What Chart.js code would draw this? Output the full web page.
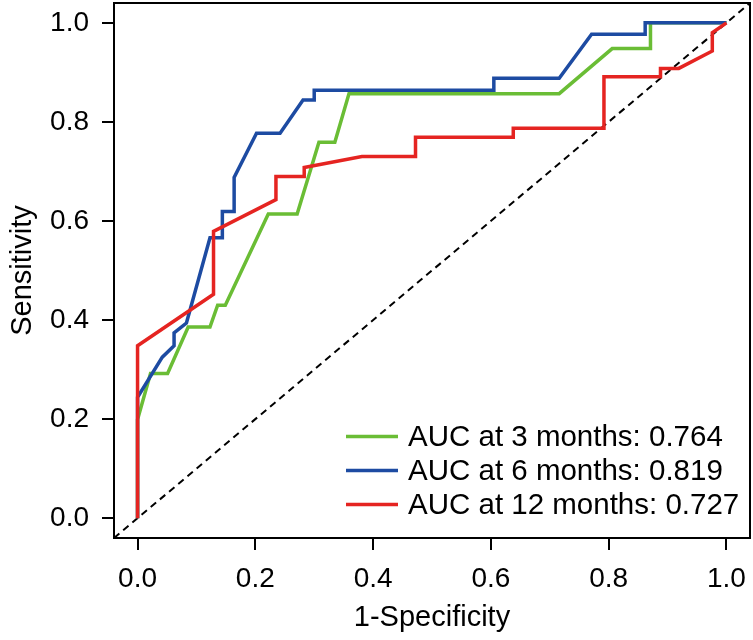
<!DOCTYPE html>
<html>
<head>
<meta charset="utf-8">
<script src="https://cdn.jsdelivr.net/npm/chart.js@4.4.1/dist/chart.umd.min.js"></script>
<style>
  html, body { margin: 0; padding: 0; background: #ffffff; }
  #wrap { width: 753px; height: 640px; }
</style>
</head>
<body>
<div id="wrap"><canvas id="c" width="753" height="640"></canvas></div>
<script>
// ---- data ----
const seriesLabels = ['AUC at 3 months: 0.764', 'AUC at 6 months: 0.819', 'AUC at 12 months: 0.727'];

const fpr3 = [0, 0, 0.022, 0.051, 0.086, 0.123, 0.136, 0.149, 0.222, 0.271, 0.308, 0.335, 0.359, 0.716, 0.806, 0.871, 0.871, 1];
const tpr3 = [0, 0.199, 0.292, 0.292, 0.386, 0.386, 0.430, 0.430, 0.614, 0.614, 0.759, 0.759, 0.857, 0.857, 0.948, 0.948, 1.0, 1];

const fpr6 = [0, 0, 0.042, 0.062, 0.062, 0.083, 0.123, 0.144, 0.144, 0.164, 0.164, 0.202, 0.242, 0.281, 0.300, 0.300, 0.605, 0.605, 0.716, 0.771, 0.862, 0.862, 1];
const tpr6 = [0, 0.244, 0.325, 0.348, 0.374, 0.394, 0.566, 0.566, 0.619, 0.619, 0.688, 0.777, 0.777, 0.844, 0.844, 0.864, 0.864, 0.888, 0.888, 0.977, 0.977, 1.0, 1];

const fpr12 = [0, 0, 0.129, 0.129, 0.235, 0.235, 0.283, 0.283, 0.381, 0.472, 0.472, 0.638, 0.638, 0.792, 0.792, 0.888, 0.888, 0.919, 0.976, 0.976, 1];
const tpr12 = [0, 0.348, 0.452, 0.579, 0.643, 0.690, 0.690, 0.708, 0.730, 0.730, 0.769, 0.769, 0.787, 0.787, 0.891, 0.891, 0.908, 0.908, 0.943, 0.980, 1];

const tickValues = [0, 0.2, 0.4, 0.6, 0.8, 1.0];
const axisMin = -0.04, axisMax = 1.04;   // R default 4% range extension
const refLine = [axisMin, axisMax];      // y = x reference line

// ---- styles ----
const colors = ['#6abd35', '#1d4ba2', '#e52421'];
const FONT = '"Liberation Sans", Arial, Helvetica, sans-serif';
const LW = 3.5;

function toPoints(xs, ys) { return xs.map((x, i) => ({ x: x, y: ys[i] })); }

const boxPlugin = {
  id: 'boxPlugin',
  afterDatasetsDraw(chart) {
    const { ctx, chartArea: ca } = chart;
    ctx.save();
    ctx.strokeStyle = '#000';
    ctx.lineWidth = 2;
    ctx.strokeRect(ca.left, ca.top, ca.right - ca.left, ca.bottom - ca.top);
    ctx.restore();
  }
};

const legendPlugin = {
  id: 'legendPlugin',
  afterDraw(chart) {
    const { ctx, chartArea: ca } = chart;
    ctx.save();
    ctx.font = '29.5px ' + FONT;
    ctx.textBaseline = 'middle';
    ctx.textAlign = 'left';
    const rowsY = [ca.bottom - 101.5, ca.bottom - 67.5, ca.bottom - 33.5];
    const x0 = ca.left + 232, x1 = ca.left + 284, tx = ca.left + 294;
    seriesLabels.forEach((lab, i) => {
      ctx.strokeStyle = colors[i];
      ctx.lineWidth = LW;
      ctx.beginPath();
      ctx.moveTo(x0, rowsY[i]);
      ctx.lineTo(x1, rowsY[i]);
      ctx.stroke();
      ctx.fillStyle = '#000';
      ctx.fillText(lab, tx, rowsY[i] + 1);
    });
    ctx.restore();
  }
};

const setTicks = (axis) => { axis.ticks = tickValues.map(v => ({ value: v })); };
const noPad = (axis) => { axis.paddingTop = 0; axis.paddingBottom = 0; axis.paddingLeft = 0; axis.paddingRight = 0; };

new Chart(document.getElementById('c'), {
  type: 'scatter',
  data: {
    datasets: [
      { label: 'ref', data: toPoints(refLine, refLine), showLine: true, borderColor: '#000', borderWidth: 2,
        borderDash: [7, 5], pointRadius: 0, order: 4 },
      { label: seriesLabels[0], data: toPoints(fpr3, tpr3), showLine: true, borderColor: colors[0], borderWidth: LW,
        pointRadius: 0, order: 3 },
      { label: seriesLabels[1], data: toPoints(fpr6, tpr6), showLine: true, borderColor: colors[1], borderWidth: LW,
        pointRadius: 0, order: 2 },
      { label: seriesLabels[2], data: toPoints(fpr12, tpr12), showLine: true, borderColor: colors[2], borderWidth: LW,
        pointRadius: 0, order: 1 }
    ]
  },
  options: {
    responsive: false,
    animation: false,
    layout: { padding: { top: 3, right: 3, left: 0, bottom: 0 } },
    elements: { line: { tension: 0, borderJoinStyle: 'miter', borderCapStyle: 'butt' } },
    plugins: { legend: { display: false }, tooltip: { enabled: false } },
    scales: {
      x: {
        type: 'linear', min: axisMin, max: axisMax,
        afterBuildTicks: setTicks,
        afterFit: (axis) => { axis.height = 102; noPad(axis); },
        grid: { display: true, drawOnChartArea: false, drawTicks: true, tickLength: 12, color: '#000', lineWidth: 2 },
        border: { display: false },
        ticks: { color: '#000', padding: 12, maxRotation: 0, font: { family: FONT, size: 28 },
                 callback: (v) => Number(v).toFixed(1) },
        title: { display: true, text: '1-Specificity', color: '#000', font: { family: FONT, size: 29 },
                 padding: { top: 0, bottom: 5 } }
      },
      y: {
        type: 'linear', min: axisMin, max: axisMax,
        afterBuildTicks: setTicks,
        afterFit: (axis) => { axis.width = 114; noPad(axis); },
        grid: { display: true, drawOnChartArea: false, drawTicks: true, tickLength: 12, color: '#000', lineWidth: 2 },
        border: { display: false },
        ticks: { color: '#000', padding: 13, font: { family: FONT, size: 28 },
                 callback: (v) => Number(v).toFixed(1) },
        title: { display: true, text: 'Sensitivity', color: '#000', font: { family: FONT, size: 29 },
                 padding: { top: 6, bottom: 0 } }
      }
    }
  },
  plugins: [boxPlugin, legendPlugin]
});
</script>
</body>
</html>
